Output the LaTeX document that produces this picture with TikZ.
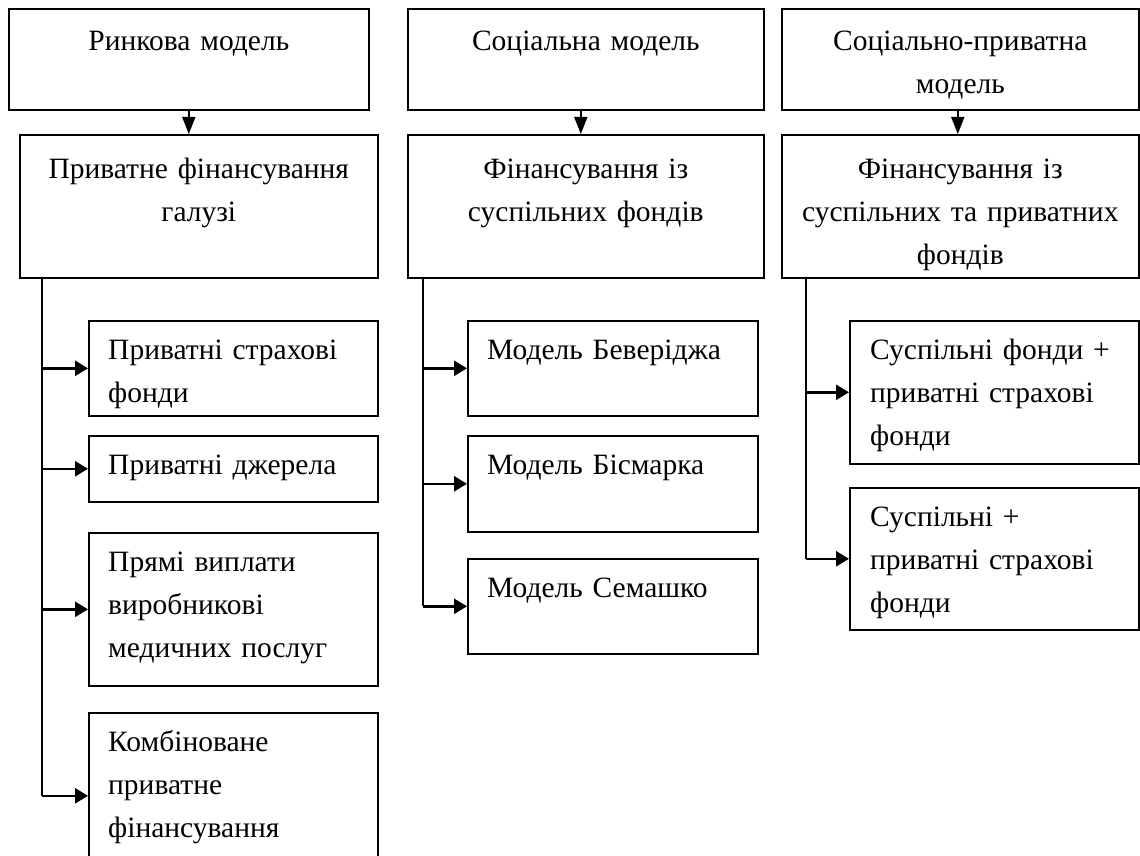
\documentclass[tikz,border=0pt]{standalone}
\usepackage{fontspec}
\setmainfont{Liberation Serif}
\usetikzlibrary{arrows.meta,calc}
\tikzset{
  box/.style={draw, line width=1.6pt, anchor=north west, inner sep=0pt},
  ctext/.style={anchor=north, inner sep=0pt, align=center, text width=345pt, font=\fontsize{29.5}{43}\selectfont, execute at begin node={\rule{0pt}{30pt}}},
  ltext/.style={anchor=north west, inner sep=0pt, align=left, text width=300pt, font=\fontsize{29.5}{43}\selectfont, execute at begin node={\rule{0pt}{30pt}}},
  downarr/.style={line width=1.6pt, -{Triangle[length=17pt,width=13pt]}},
  trunk/.style={line width=1.6pt},
  brarr/.style={line width=2.6pt, -{Triangle[length=13pt,width=15pt]}}
}
\begin{document}
\begin{tikzpicture}[x=1pt,y=-1pt]
\useasboundingbox (0,0) rectangle (1140,856);
\clip (0,0) rectangle (1140,856);
% ---------- column 1 ----------
\node[box, minimum width=360pt, minimum height=101pt] (a1) at (8,8) {};
\node[ctext] (a1t) at ($(a1.north)+(0,12)$) {Ринкова модель};
\node[box, minimum width=358pt, minimum height=143pt] (b1) at (19,134) {};
\node[ctext] (b1t) at ($(b1.north)+(0,14)$) {Приватне фінансування\\галузі};
\node[box, minimum width=289pt, minimum height=95pt] (c11) at (88,320) {};
\node[ltext] (c11t) at ($(c11.north west)+(20,9)$) {Приватні страхові\\фонди};
\node[box, minimum width=289pt, minimum height=66pt] (c12) at (88,435) {};
\node[ltext] (c12t) at ($(c12.north west)+(20,9)$) {Приватні джерела};
\node[box, minimum width=289pt, minimum height=153pt] (c13) at (88,532) {};
\node[ltext] (c13t) at ($(c13.north west)+(20,9)$) {Прямі виплати\\виробникові\\медичних послуг};
\node[box, minimum width=289pt, minimum height=166pt] (c14) at (88,712) {};
\node[ltext] (c14t) at ($(c14.north west)+(20,9)$) {Комбіноване\\приватне\\фінансування};
\coordinate (j1) at ($(b1.south west)+(23,0)$);
\coordinate (d1) at ($(a1.south)+(0,0)$);
\draw[downarr] (d1) -- (b1.north -| d1);
\draw[brarr] (j1 |- c11.west) -- (c11.west);
\draw[brarr] (j1 |- c12.west) -- (c12.west);
\draw[brarr] (j1 |- c13.west) -- (c13.west);
\draw[trunk] (j1) -- (j1 |- c14.west);
\draw[brarr] (j1 |- c14.west) -- (c14.west);
% ---------- column 2 ----------
\node[box, minimum width=356pt, minimum height=101pt] (a2) at (407,8) {};
\node[ctext] (a2t) at ($(a2.north)+(0,12)$) {Соціальна модель};
\node[box, minimum width=356pt, minimum height=143pt] (b2) at (407,134) {};
\node[ctext] (b2t) at ($(b2.north)+(0,14)$) {Фінансування із\\суспільних фондів};
\node[box, minimum width=290pt, minimum height=95pt] (c21) at (467,320) {};
\node[ltext] (c21t) at ($(c21.north west)+(20,9)$) {Модель Беверіджа};
\node[box, minimum width=290pt, minimum height=96pt] (c22) at (467,435) {};
\node[ltext] (c22t) at ($(c22.north west)+(20,9)$) {Модель Бісмарка};
\node[box, minimum width=290pt, minimum height=95pt] (c23) at (467,558) {};
\node[ltext] (c23t) at ($(c23.north west)+(20,9)$) {Модель Семашко};
\coordinate (j2) at ($(b2.south west)+(16,0)$);
\coordinate (d2) at ($(a2.south)+(-5,0)$);
\draw[downarr] (d2) -- (b2.north -| d2);
\draw[brarr] (j2 |- c21.west) -- (c21.west);
\draw[brarr] (j2 |- c22.west) -- (c22.west);
\draw[trunk] (j2) -- (j2 |- c23.west);
\draw[brarr] (j2 |- c23.west) -- (c23.west);
% ---------- column 3 ----------
\node[box, minimum width=357pt, minimum height=101pt] (a3) at (781,8) {};
\node[ctext] (a3t) at ($(a3.north)+(0,12)$) {Соціально-приватна\\модель};
\node[box, minimum width=357pt, minimum height=143pt] (b3) at (781,134) {};
\node[ctext] (b3t) at ($(b3.north)+(0,14)$) {Фінансування із\\суспільних та приватних\\фондів};
\node[box, minimum width=289pt, minimum height=143pt] (c31) at (849,320) {};
\node[ltext] (c31t) at ($(c31.north west)+(21,9)$) {Суспільні фонди +\\приватні страхові\\фонди};
\node[box, minimum width=289pt, minimum height=142pt] (c32) at (849,487) {};
\node[ltext] (c32t) at ($(c32.north west)+(21,9)$) {Суспільні +\\приватні страхові\\фонди};
\coordinate (j3) at ($(b3.south west)+(25,0)$);
\coordinate (d3) at ($(a3.south)+(-2.5,0)$);
\draw[downarr] (d3) -- (b3.north -| d3);
\draw[brarr] (j3 |- c31.west) -- (c31.west);
\draw[trunk] (j3) -- (j3 |- c32.west);
\draw[brarr] (j3 |- c32.west) -- (c32.west);
\end{tikzpicture}
\end{document}
